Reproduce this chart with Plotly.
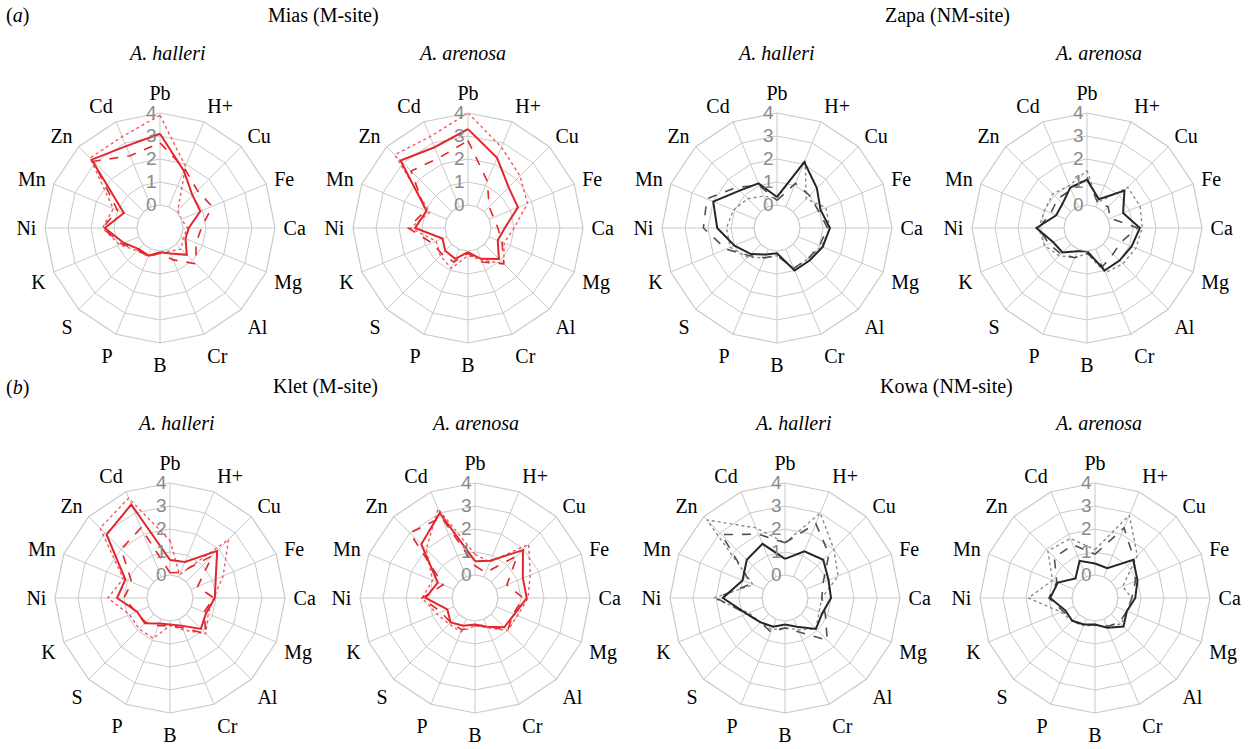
import plotly.graph_objects as go

# ---------------- data ----------------
categories = ["Pb", "H+", "Cu", "Fe", "Ca", "Mg", "Al", "Cr", "B", "P", "S", "K", "Ni", "Mn", "Zn", "Cd"]
radial_ticks = [0, 1, 2, 3, 4]

site_titles = ["Mias (M-site)", "Zapa (NM-site)", "Klet (M-site)", "Kowa (NM-site)"]
species = ["A. halleri", "A. arenosa"]
row_labels = ["a", "b"]

# Mias (M-site)
mias_halleri_solid = [3.1, 1.7, 1.0, 0.9, 0.25, 0.2, 0.65, 0.2, 0.05, 0.3, 0.3, 0.7, 1.4, 0.7, 3.2, 2.85]
mias_halleri_dashed = [2.7, 1.8, 1.3, 1.45, 0.8, 0.7, 1.2, 0.5, 0.1, 0.35, 0.35, 0.8, 1.5, 1.0, 3.1, 2.4]
mias_halleri_dotted = [3.9, 1.9, 0.1, 0.0, 0.2, 0.1, 0.3, 0.1, 0.05, 0.35, 0.4, 0.9, 1.5, 1.2, 3.3, 3.3]

mias_arenosa_solid = [3.3, 2.3, 1.5, 1.35, 0.6, 0.4, 0.9, 0.45, 0.05, 0.45, 0.4, 0.2, 1.3, 0.95, 3.15, 2.8]
mias_arenosa_dashed = [2.8, 1.2, 0.3, 0.2, 0.3, 0.6, 1.2, 0.6, 0.1, 0.6, 0.6, 0.7, 1.6, 1.0, 2.5, 2.3]
mias_arenosa_dotted = [4.0, 2.8, 2.2, 1.8, 1.0, 0.7, 1.2, 0.5, 0.2, 0.9, 0.7, 0.5, 1.5, 0.8, 3.5, 3.3]

# Zapa (NM-site)
zapa_halleri_solid = [0.35, 2.1, 1.45, 1.05, 1.3, 1.15, 1.0, 1.0, 0.1, 0.25, 0.6, 1.0, 1.6, 2.0, 1.3, 1.1]
zapa_halleri_dashed = [0.2, 1.1, 1.0, 0.95, 1.2, 1.0, 0.9, 0.9, 0.2, 0.4, 0.7, 1.4, 2.2, 2.3, 1.5, 1.0]
zapa_halleri_dotted = [0.3, 2.2, 0.8, 1.3, 1.3, 1.1, 0.9, 0.9, 0.2, 0.4, 0.8, 1.2, 1.2, 1.05, 0.8, 0.5]

zapa_arenosa_solid = [1.1, 0.35, 1.3, 0.7, 1.3, 1.1, 1.0, 1.0, 0.0, 0.1, 0.5, 0.6, 1.2, 0.45, 0.5, 0.9]
zapa_arenosa_dashed = [1.2, 0.2, 0.3, 0.1, 1.2, 0.6, 0.6, 0.8, 0.1, 0.4, 0.6, 0.8, 1.1, 0.7, 0.8, 0.8]
zapa_arenosa_dotted = [1.5, 0.2, 1.5, 1.5, 1.4, 1.3, 1.2, 1.1, 0.1, 0.4, 0.7, 1.0, 1.1, 1.0, 1.1, 1.0]

# Klet (M-site)
klet_halleri_solid = [0.65, 0.7, 1.9, 1.15, 0.95, 0.7, 0.9, 0.3, 0.15, 0.2, 0.55, 0.55, 1.3, 1.1, 2.9, 3.4]
klet_halleri_dashed = [0.1, 0.2, 1.6, 0.3, 0.9, 0.6, 1.2, 0.4, 0.2, 0.3, 0.5, 0.6, 1.0, 0.8, 2.0, 2.3]
klet_halleri_dotted = [1.5, 0.1, 2.6, 1.5, 0.9, 0.8, 1.2, 0.5, 0.2, 0.9, 0.9, 0.9, 1.7, 1.2, 3.3, 3.7]

klet_arenosa_solid = [0.6, 0.75, 1.95, 1.25, 1.25, 0.85, 0.8, 0.35, 0.15, 0.3, 0.5, 0.3, 1.15, 0.75, 2.3, 3.0]
klet_arenosa_dashed = [0.4, 0.2, 1.6, 0.5, 1.1, 0.8, 1.0, 0.3, 0.2, 0.5, 0.5, 0.6, 1.3, 0.5, 3.0, 2.8]
klet_arenosa_dotted = [0.9, 0.7, 2.3, 1.6, 1.3, 1.0, 1.0, 0.4, 0.2, 0.6, 0.6, 0.8, 1.3, 1.0, 2.0, 3.2]

# Kowa (NM-site)
kowa_halleri_solid = [0.7, 1.2, 1.35, 1.05, 1.0, 0.75, 0.9, 0.35, 0.15, 0.35, 0.5, 0.8, 1.7, 1.0, 1.35, 1.55]
kowa_halleri_dashed = [1.4, 2.5, 1.7, 0.8, 0.6, 0.9, 1.6, 0.6, 0.3, 0.6, 0.5, 0.8, 2.0, 0.6, 2.9, 2.0]
kowa_halleri_dotted = [1.4, 3.0, 2.0, 1.5, 0.6, 0.6, 0.9, 0.5, 0.3, 0.5, 0.5, 0.7, 2.1, 0.5, 3.8, 2.3]

kowa_arenosa_solid = [0.5, 0.4, 1.35, 1.0, 0.75, 0.5, 0.75, 0.4, 0.15, 0.25, 0.4, 0.4, 0.95, 0.75, 0.2, 0.75]
kowa_arenosa_dashed = [0.9, 2.3, 1.4, 0.9, 0.6, 0.5, 0.5, 0.35, 0.15, 0.3, 0.4, 0.5, 1.0, 0.8, 1.5, 1.5]
kowa_arenosa_dotted = [1.1, 2.9, 1.6, 0.3, 0.6, 0.5, 0.6, 0.3, 0.2, 0.3, 0.4, 0.6, 1.9, 1.0, 1.9, 1.8]

# ---------------- layout / styling ----------------
W, H = 1251, 749
R = 115
SERIF = "Liberation Serif, Times New Roman, serif"
GRID = "#c9c9c9"

red_styles = [("#e3262b", 2.0, "solid"), ("#e3262b", 1.6, "dash"), ("#ee5a5e", 1.4, "dot")]
black_styles = [("#262626", 2.0, "solid"), ("#505050", 1.6, "dash"), ("#8a8a8a", 1.4, "dot")]

panels = [
    # (solid, dashed, dotted, styles, center_x, center_y)
    (mias_halleri_solid, mias_halleri_dashed, mias_halleri_dotted, red_styles, 160, 228),
    (mias_arenosa_solid, mias_arenosa_dashed, mias_arenosa_dotted, red_styles, 468, 228),
    (zapa_halleri_solid, zapa_halleri_dashed, zapa_halleri_dotted, black_styles, 777, 228),
    (zapa_arenosa_solid, zapa_arenosa_dashed, zapa_arenosa_dotted, black_styles, 1087, 228),
    (klet_halleri_solid, klet_halleri_dashed, klet_halleri_dotted, red_styles, 170, 598),
    (klet_arenosa_solid, klet_arenosa_dashed, klet_arenosa_dotted, red_styles, 475, 598),
    (kowa_halleri_solid, kowa_halleri_dashed, kowa_halleri_dotted, black_styles, 785, 598),
    (kowa_arenosa_solid, kowa_arenosa_dashed, kowa_arenosa_dotted, black_styles, 1095, 598),
]

fig = go.Figure()
layout_polars = {}
theta_closed = categories + [categories[0]]

for i, (s, d, o, styles, cx, cy) in enumerate(panels):
    pname = "polar" if i == 0 else f"polar{i + 1}"
    # dotted first, then dashed, solid on top
    for vals, (col, w, dash) in [(o, styles[2]), (d, styles[1]), (s, styles[0])]:
        fig.add_trace(go.Scatterpolar(
            r=vals + [vals[0]], theta=theta_closed, mode="lines",
            line=dict(color=col, width=w, dash=dash),
            subplot=pname, showlegend=False, hoverinfo="skip"))
    layout_polars[pname] = dict(
        domain=dict(x=[(cx - R) / W, (cx + R) / W], y=[1 - (cy + R) / H, 1 - (cy - R) / H]),
        hole=0.2,
        gridshape="linear",
        bgcolor="white",
        radialaxis=dict(range=[0, 4], tickvals=radial_ticks, angle=90, tickangle=90,
                        side="counterclockwise", showline=False,
                        gridcolor=GRID, gridwidth=1.2, ticks="",
                        tickfont=dict(family="Liberation Sans, Arial, sans-serif", size=19, color="#8a8a8a")),
        angularaxis=dict(rotation=90, direction="clockwise", categoryorder="array",
                         categoryarray=categories, gridcolor=GRID, gridwidth=1.2,
                         linecolor=GRID, linewidth=1.2, showline=True,
                         ticks="outside", ticklen=4, tickcolor="rgba(0,0,0,0)",
                         tickfont=dict(family=SERIF, size=20, color="black")),
    )

annotations = []
def add_text(txt, x, y, anchor="center"):
    annotations.append(dict(text=txt, x=x / W, y=1 - y / H, xref="paper", yref="paper",
                            showarrow=False, xanchor=anchor, yanchor="middle",
                            font=dict(family=SERIF, size=20, color="black")))

add_text(f"(<i>{row_labels[0]}</i>)", 4, 15, "left")
add_text(f"(<i>{row_labels[1]}</i>)", 4, 387, "left")
add_text(site_titles[0], 323, 15)
add_text(site_titles[1], 948, 15)
add_text(site_titles[2], 325, 386)
add_text(site_titles[3], 946, 386)
for x, y, sp in [(167, 53, species[0]), (462, 53, species[1]), (776, 53, species[0]), (1098, 53, species[1]),
                 (176, 423, species[0]), (475, 423, species[1]), (793, 423, species[0]), (1098, 423, species[1])]:
    add_text(f"<i>{sp}</i>", x, y)

fig.update_layout(
    width=W, height=H, margin=dict(l=0, r=0, t=0, b=0),
    paper_bgcolor="white", plot_bgcolor="white",
    annotations=annotations, showlegend=False,
    **layout_polars,
)

fig.write_html("out.html", config={"displayModeBar": False},
               post_script="document.body.style.margin='0';document.body.style.overflow='hidden';")
